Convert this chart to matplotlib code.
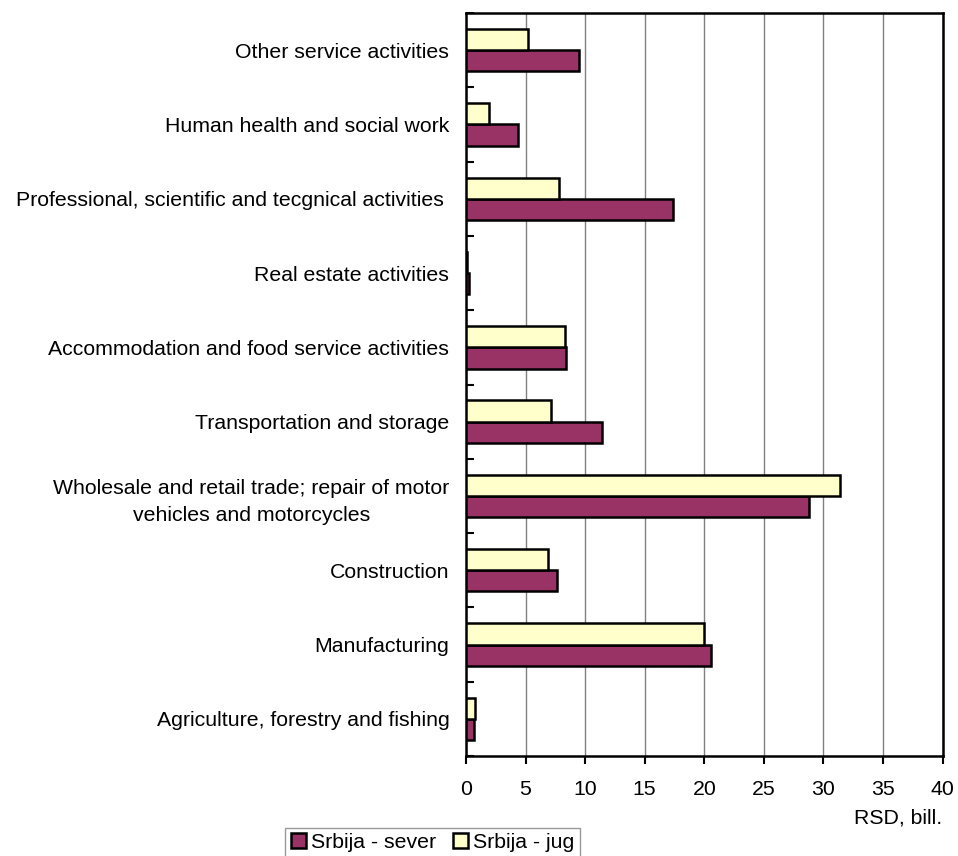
import matplotlib
matplotlib.use("Agg")
import matplotlib.pyplot as plt
import numpy as np

plt.rcParams['font.family'] = ['Liberation Sans', 'DejaVu Sans']

categories = [
    "Agriculture, forestry and fishing",
    "Manufacturing",
    "Construction",
    "Wholesale and retail trade; repair of motor\nvehicles and motorcycles",
    "Transportation and storage",
    "Accommodation and food service activities",
    "Real estate activities",
    "Professional, scientific and tecgnical activities ",
    "Human health and social work",
    "Other service activities",
]
sever = [0.67, 20.56, 7.64, 28.76, 11.44, 8.42, 0.25, 17.37, 4.39, 9.48]
jug = [0.76, 20.0, 6.91, 31.38, 7.13, 8.31, 0.1, 7.78, 1.93, 5.2]
xticks = [0, 5, 10, 15, 20, 25, 30, 35, 40]

FS = 15.3

fig = plt.figure(figsize=(9.58, 8.56), dpi=100)
ax = fig.add_axes([466/958, 1 - 756/856, (942.5 - 466)/958, (756 - 13)/856])

y = np.arange(len(categories))
h = 0.285
ax.barh(y - h/2, sever, height=h, color='#993366', edgecolor='black', linewidth=1.8,
        label='Srbija - sever', zorder=3)
ax.barh(y + h/2, jug, height=h, color='#FFFFCC', edgecolor='black', linewidth=1.8,
        label='Srbija - jug', zorder=3)

ax.set_xlim(0, 40)
ax.set_ylim(-0.5, len(categories) - 0.5)
ax.set_xticks(xticks)
ax.set_xticklabels([str(t) for t in xticks], fontsize=FS)
ax.set_yticks(y)
ax.set_yticklabels(categories, fontsize=FS, linespacing=1.55)
ax.tick_params(axis='y', length=0, pad=12)
ax.set_yticks(np.arange(len(categories) + 1) - 0.5, minor=True)
ax.tick_params(axis='y', which='minor', direction='in', length=6, width=1.5)
ax.tick_params(axis='x', direction='out', length=6, width=1.5, pad=11)
for t in ax.get_yticklabels():
    t.set_multialignment('center')
ax.grid(axis='x', color='#808080', linewidth=1.0, zorder=0)
for s in ax.spines.values():
    s.set_linewidth(1.8)

fig.text(942 / 958, 1 - 818 / 856, 'RSD, bill.', ha='right', va='center', fontsize=FS)

handles, labels = ax.get_legend_handles_labels()
leg = fig.legend(handles, labels, loc='upper center', bbox_to_anchor=(432.5 / 958, 1 - 828 / 856),
                 ncol=2, fontsize=FS, frameon=True, fancybox=False, edgecolor='#808080',
                 handlelength=0.7, handleheight=0.7, handletextpad=0.25, columnspacing=0.8,
                 borderpad=0.25, borderaxespad=0)
leg.get_frame().set_linewidth(1.0)

fig.savefig('out.png', dpi=100)
